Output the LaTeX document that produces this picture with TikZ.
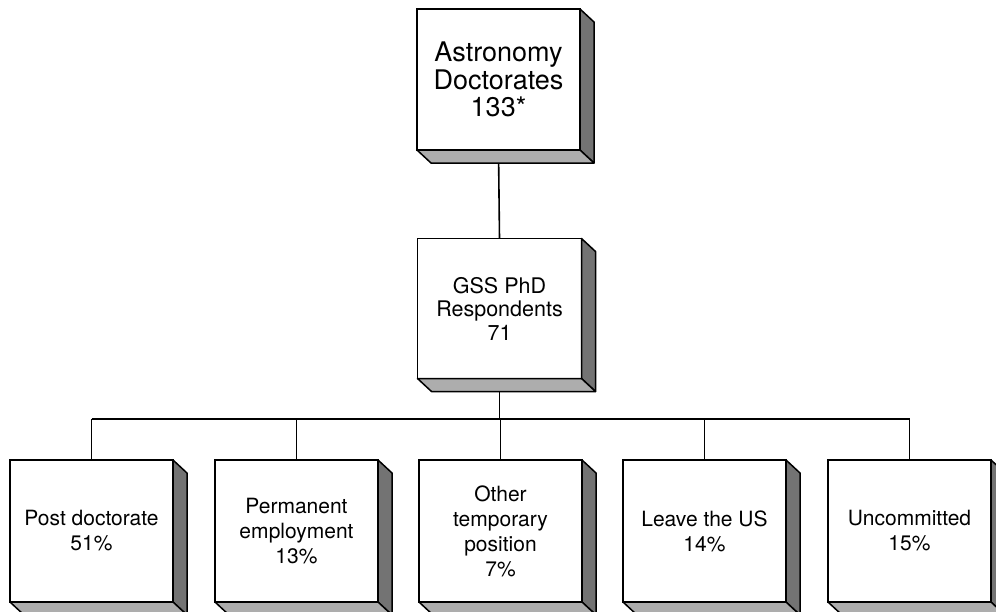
\documentclass[tikz,border=0pt]{standalone}
\usepackage{fontspec}
\setmainfont{TeX Gyre Heros}
\usetikzlibrary{calc}
\tikzset{
  frontbox/.style={draw, line width=1.9pt, fill=white, inner sep=0pt, outer sep=0pt,
    align=center, text=black},
  bigbox/.style={frontbox, minimum width=163pt, minimum height=141pt,
    font=\fontsize{27}{27.5}\selectfont},
  midbox/.style={frontbox, minimum width=164pt, minimum height=140pt,
    font=\fontsize{21.5}{23.5}\selectfont},
  smallbox/.style={frontbox, minimum width=163pt, minimum height=142pt,
    font=\fontsize{21}{25}\selectfont},
  rightface/.style={draw, line width=1.5pt, fill=black!55, line join=round},
  bottomface/.style={draw, line width=1.5pt, fill=black!32, line join=round},
  conn/.style={draw, line width=1.6pt}
}
\begin{document}
\begin{tikzpicture}[x=1pt,y=-1pt]
\useasboundingbox (0,0) rectangle (996,611);
\clip (0,0) rectangle (996,611);
\fill[white] (0,0) rectangle (996,611);

\node[bigbox] (top) at (498.5,79.5) {Astronomy\\Doctorates\\133*};
\node[midbox] (mid) at (499.5,308.5) {GSS PhD\\Respondents\\71};
\node[smallbox] (b1) at (91.5,531) {Post doctorate\\51\%};
\node[smallbox] (b2) at (296.5,531) {Permanent\\employment\\13\%};
\node[smallbox] (b3) at (500.5,531) {Other\\temporary\\position\\7\%};
\node[smallbox] (b4) at (704.5,531) {Leave the US\\14\%};
\node[smallbox] (b5) at (909.5,531) {Uncommitted\\15\%};
\coordinate (bus) at (0,419);

\draw[conn] (top.south) -- (mid.north);
\draw[conn] (mid.south) -- (mid.south |- bus);
\draw[conn] (b1.north |- bus) -- (b5.north |- bus);
\foreach \n in {b1,b2,b3,b4,b5}
  \draw[conn] (\n.north |- bus) -- (\n.north);

\foreach \n in {top,mid,b1,b2,b3,b4,b5} {
  \path[rightface] (\n.north east) -- ++(14,13) -- ($(\n.south east)+(14,13)$) -- (\n.south east) -- cycle;
  \path[bottomface] (\n.south west) -- (\n.south east) -- ++(14,13) -- ($(\n.south west)+(14,13)$) -- cycle;
}
\end{tikzpicture}
\end{document}
